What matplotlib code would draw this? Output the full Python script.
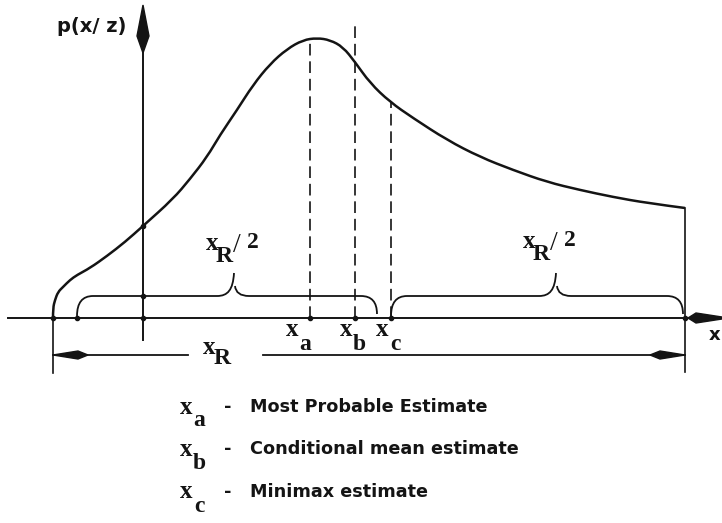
import matplotlib
matplotlib.use('Agg')
import matplotlib.pyplot as plt
from matplotlib.path import Path
from matplotlib.patches import PathPatch, Polygon

# diagram units: origin where the p(x/z) axis crosses the x axis
curve_x = [-90, -90, -88, -85, -80, -73, -66, -53, -36, -18, 0, 30, 47, 64, 77, 94,
           110, 127, 144, 160, 174, 187, 200, 212, 227, 247, 270, 304, 337, 370, 404,
           437, 470, 504, 542]
curve_y = [0, 10, 18, 26, 31, 38, 43, 50, 62, 76, 92, 119, 139, 161, 183, 208,
           233, 254, 269, 278, 280, 278, 271, 256, 235, 216, 200, 178, 161, 148, 136,
           128, 121, 115, 110]

est_x = [167, 212, 248]          # x_a, x_b, x_c
est_top = [280, 295, 216]        # top of dashed lines
est_sub = ['a', 'b', 'c']
est_names = ['Most Probable Estimate', 'Conditional mean estimate', 'Minimax estimate']

range_lo, range_hi = -90, 542    # x_R
braces = [(-66, 234, 90), (248, 540, 412)]   # (start, end, cusp) of the x_R/2 braces

ink = '#141414'
serif = 'Liberation Serif'
sans = 'DejaVu Sans'

fig = plt.figure(figsize=(7.22, 5.23), dpi=100)
ax = fig.add_axes([0, 0, 1, 1])
ax.set_xlim(-143, 579)
ax.set_ylim(-205, 318)
ax.axis('off')

# axes
ax.plot([-135, 546], [0, 0], color=ink, lw=1.4)
ax.plot([0, 0], [-22, 300], color=ink, lw=1.4)
ax.add_patch(Polygon([(0, 313), (6, 282), (0, 265), (-6, 282)], closed=True, color=ink))
ax.add_patch(Polygon([(545, 0), (553, 5), (579, 1), (579, -1), (553, -5)], closed=True, color=ink))

# density curve, drawn as a smooth quadratic path through the read points
pts = list(zip(curve_x, curve_y))
verts = [pts[0]]
codes = [Path.MOVETO]
for i in range(1, len(pts) - 1):
    end = pts[i + 1] if i == len(pts) - 2 else ((pts[i][0] + pts[i + 1][0]) / 2,
                                                 (pts[i][1] + pts[i + 1][1]) / 2)
    verts += [pts[i], end]
    codes += [Path.CURVE3, Path.CURVE3]
ax.add_patch(PathPatch(Path(verts, codes), fill=False, ec=ink, lw=1.8))

# range boundaries
ax.plot([range_lo, range_lo], [0, -55], color=ink, lw=1.2)
ax.plot([range_hi, range_hi], [curve_y[-1], -54], color=ink, lw=1.2)

# estimates
for xe, top in zip(est_x, est_top):
    ax.plot([xe, xe], [0, top], color=ink, lw=1.2, linestyle=(0, (7, 3.5)))

# small ticks on the axis
ax.plot([range_lo, braces[0][0], 0] + est_x + [range_hi], [0] * 7, 'o', color=ink, ms=3)
ax.plot([0, 0], [22, curve_y[10]], 'o', color=ink, ms=3)


def brace(x0, x1, xc, h=22, tip=45, r=16):
    verts = [(x0, 2), (x0, h), (x0 + r, h), (xc - r, h),
             (xc - r / 3, h), (xc, h + 6), (xc + 1, tip)]
    codes = [Path.MOVETO, Path.CURVE3, Path.CURVE3, Path.LINETO,
             Path.CURVE4, Path.CURVE4, Path.CURVE4]
    ax.add_patch(PathPatch(Path(verts, codes), fill=False, ec=ink, lw=1.3))
    verts = [(xc + 2, h + 10), (xc + 3, h), (xc + r, h), (x1 - r, h), (x1, h), (x1, 4)]
    codes = [Path.MOVETO, Path.CURVE3, Path.CURVE3, Path.LINETO, Path.CURVE3, Path.CURVE3]
    ax.add_patch(PathPatch(Path(verts, codes), fill=False, ec=ink, lw=1.3))


for b in braces:
    brace(*b)


def sub_label(x, y, sub, dx=12, dy=-15, size=18, sub_size=17):
    ax.text(x, y, 'x', ha='center', va='center', fontsize=size, fontweight='bold',
            family=serif, color=ink)
    ax.text(x + dx, y + dy, sub, ha='center', va='center', fontsize=sub_size, fontweight='bold',
            family=serif, color=ink)


# x_R/2 labels above braces
for lx, ly in [(69, 74), (386, 76)]:
    sub_label(lx, ly, 'R', dx=12, dy=-13)
    ax.text(lx + 25, ly - 2, '/', ha='center', va='center', fontsize=20, family=serif, color=ink)
    ax.text(lx + 41, ly + 2, '2', ha='center', va='center', fontsize=17, fontweight='bold',
            family=serif, color=ink)

# estimate labels under the axis
for xe, s, off in zip(est_x, est_sub, [-18, -9, -9]):
    sub_label(xe + off, -12, s, dx=13, dy=-15)

# x_R range arrow
ax.plot([range_lo, 45], [-37, -37], color=ink, lw=1.3)
ax.plot([120, range_hi], [-37, -37], color=ink, lw=1.3)
ax.add_patch(Polygon([(range_lo, -37), (-65, -33), (-55, -37), (-65, -41)], closed=True, color=ink))
ax.add_patch(Polygon([(range_hi, -37), (517, -33), (507, -37), (517, -41)], closed=True, color=ink))
sub_label(66, -30, 'R', dx=13, dy=-11)

# axis titles
ax.text(-51, 291, 'p(x/ z)', ha='center', va='center', fontsize=14, fontweight='bold',
        family=sans, color=ink)
ax.text(572, -17, 'x', ha='center', va='center', fontsize=13, fontweight='bold',
        family=sans, color=ink)

# key
for i, (s, name) in enumerate(zip(est_sub, est_names)):
    yy = -89 - 42.5 * i
    sub_label(43, yy, s, dx=13, dy=-14)
    ax.text(85, yy, '-', ha='center', va='center', fontsize=13, fontweight='bold',
            family=sans, color=ink)
    ax.text(107, yy, name, ha='left', va='center', fontsize=12.7, fontweight='bold',
            family=sans, color=ink)

fig.savefig('out.png', dpi=100)
